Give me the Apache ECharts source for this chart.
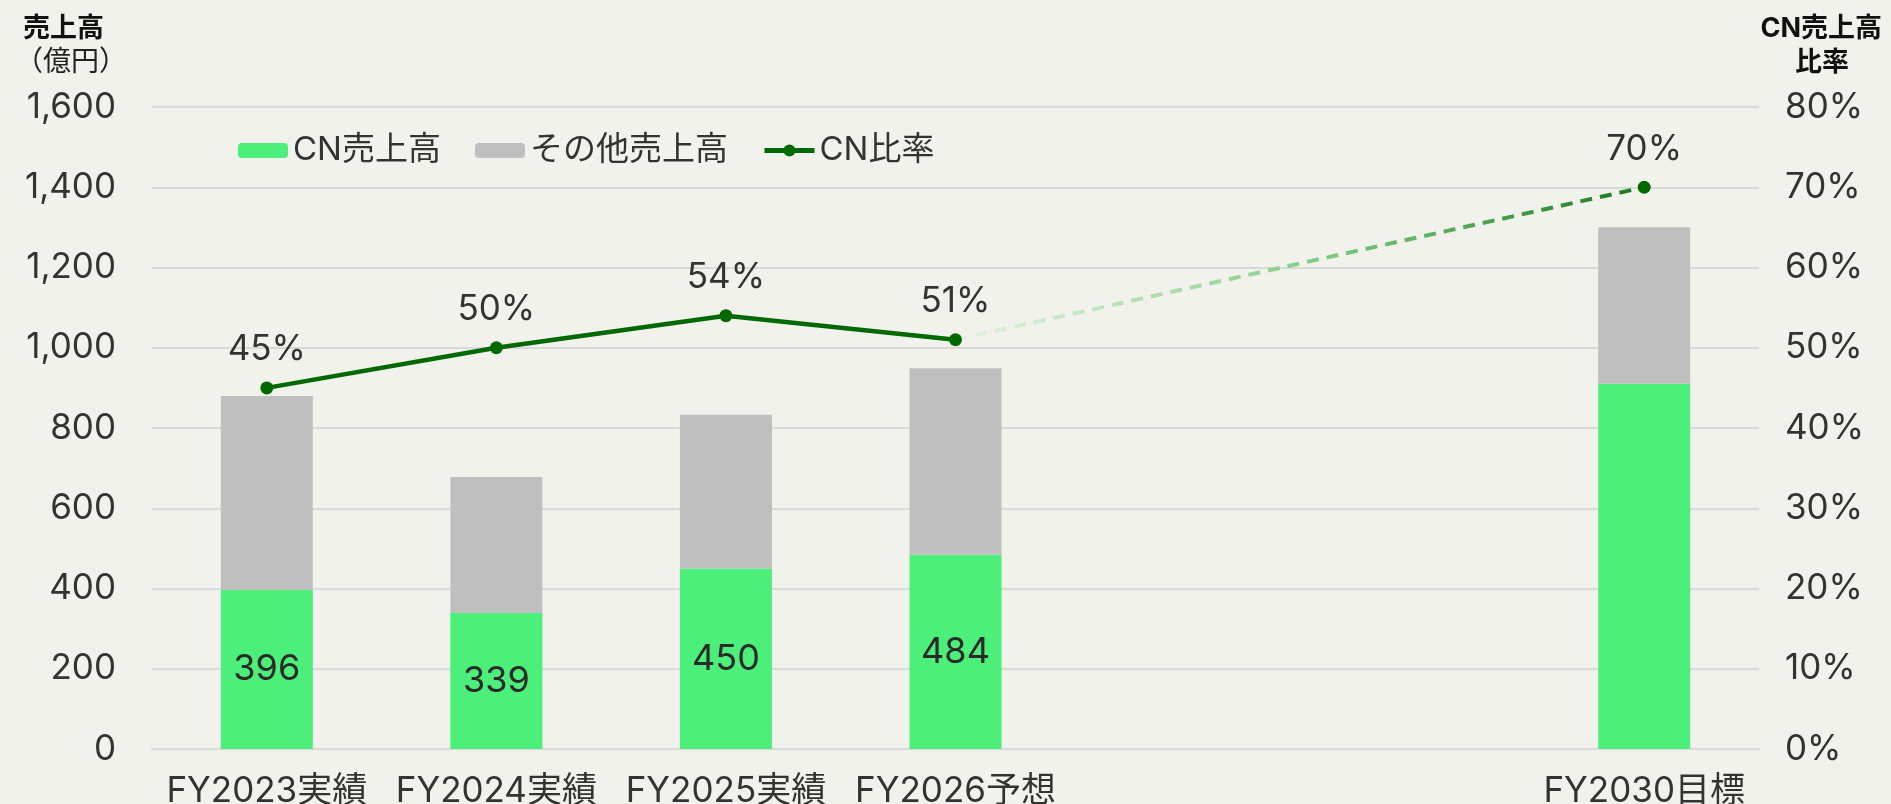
<!DOCTYPE html>
<html>
<head>
<meta charset="utf-8">
<script src="https://cdn.jsdelivr.net/npm/echarts@6/dist/echarts.min.js"></script>
<style>
  html, body { margin: 0; padding: 0; background: #f2f2ed; }
  #main { width: 1891px; height: 804px; }
</style>
</head>
<body>
<div id="main"></div>
<script>
var categories = ['FY2023実績', 'FY2024実績', 'FY2025実績', 'FY2026予想', '', '', 'FY2030目標'];
var cnSales = [396, 339, 450, 484, null, null, 910];
var otherSales = [484, 339, 383, 465, null, null, 390];
var cnRatio = [45, 50, 54, 51, null, null, 70];
// 予想→目標 の点線部分
var cnRatioTarget = [null, null, null, 51, null, null, 70];
var showBarLabel = [true, true, true, true, false, false, false];

var font = 'Inter, "Noto Sans CJK JP", sans-serif';
var textColor = '#333333';

var chart = echarts.init(document.getElementById('main'));

var option = {
  backgroundColor: '#f2f2ed',
  textStyle: { fontFamily: font },
  title: [
    { text: '売上高', left: 18, top: 10, textStyle: { fontSize: 27, fontWeight: 'bold', color: '#111', fontFamily: font } },
    { text: '（億円）', left: 10, top: 44, textStyle: { fontSize: 28, fontWeight: 'normal', color: '#222', fontFamily: font } },
    { text: 'CN売上高', right: 4, top: 10, textStyle: { fontSize: 27, fontWeight: 'bold', color: '#111', fontFamily: font } },
    { text: '比率', left: 1790, top: 44, textStyle: { fontSize: 27, fontWeight: 'bold', color: '#111', fontFamily: font } }
  ],
  legend: {
    left: 233,
    top: 129,
    itemWidth: 50,
    itemHeight: 15,
    itemGap: 34,
    data: [
      'CN売上高',
      'その他売上高',
      { name: 'CN比率', lineStyle: { width: 5 } }
    ],
    textStyle: { fontSize: 33, color: textColor, fontFamily: font }
  },
  grid: {
    left: 152,
    right: 132,
    top: 107,
    bottom: 55,
    containLabel: false,
    outerBoundsMode: 'none'
  },
  xAxis: {
    type: 'category',
    data: categories,
    axisTick: { show: false },
    axisLine: { lineStyle: { color: '#d9d9d9', width: 2 } },
    axisLabel: { fontSize: 35, color: textColor, margin: 25, interval: 0, fontFamily: font }
  },
  yAxis: [
    {
      type: 'value',
      min: 0,
      max: 1600,
      interval: 200,
      axisLine: { show: false },
      axisTick: { show: false },
      splitLine: { lineStyle: { color: '#d9d9d9', width: 2 } },
      axisLabel: {
        fontSize: 35, color: textColor, margin: 36, fontFamily: font,
        formatter: function (v) { return v.toLocaleString('en-US'); }
      }
    },
    {
      type: 'value',
      min: 0,
      max: 80,
      interval: 10,
      axisLine: { show: false },
      axisTick: { show: false },
      splitLine: { show: false },
      axisLabel: { fontSize: 35, color: textColor, margin: 26, fontFamily: font, formatter: '{value}%' }
    }
  ],
  series: [
    {
      name: 'CN売上高',
      type: 'bar',
      stack: 'sales',
      barWidth: 92,
      itemStyle: { color: '#4cef7a' },
      label: {
        show: true,
        position: 'inside',
        fontSize: 36,
        color: '#2a2a2a',
        fontFamily: font,
        formatter: function (p) { return showBarLabel[p.dataIndex] ? p.value : ''; }
      },
      data: cnSales
    },
    {
      name: 'その他売上高',
      type: 'bar',
      stack: 'sales',
      barWidth: 92,
      itemStyle: { color: '#bfbfbf' },
      data: otherSales
    },
    {
      name: 'CN比率目標',
      type: 'line',
      yAxisIndex: 1,
      connectNulls: true,
      showSymbol: false,
      silent: true,
      z: 3,
      lineStyle: {
        width: 4,
        type: [12, 8],
        color: new echarts.graphic.LinearGradient(0, 0, 1, 0, [
          { offset: 0, color: '#e4f4e2' },
          { offset: 0.5, color: '#86cf8a' },
          { offset: 1, color: '#187a1c' }
        ])
      },
      data: cnRatioTarget
    },
    {
      name: 'CN比率',
      type: 'line',
      yAxisIndex: 1,
      symbol: 'circle',
      symbolSize: 13,
      z: 4,
      itemStyle: { color: '#006a00' },
      lineStyle: { width: 4.5, color: '#006a00' },
      label: {
        show: true,
        position: 'top',
        distance: 14,
        fontSize: 35,
        color: textColor,
        fontFamily: font,
        formatter: '{c}%'
      },
      data: cnRatio
    }
  ]
};

chart.setOption(option);
</script>
</body>
</html>
